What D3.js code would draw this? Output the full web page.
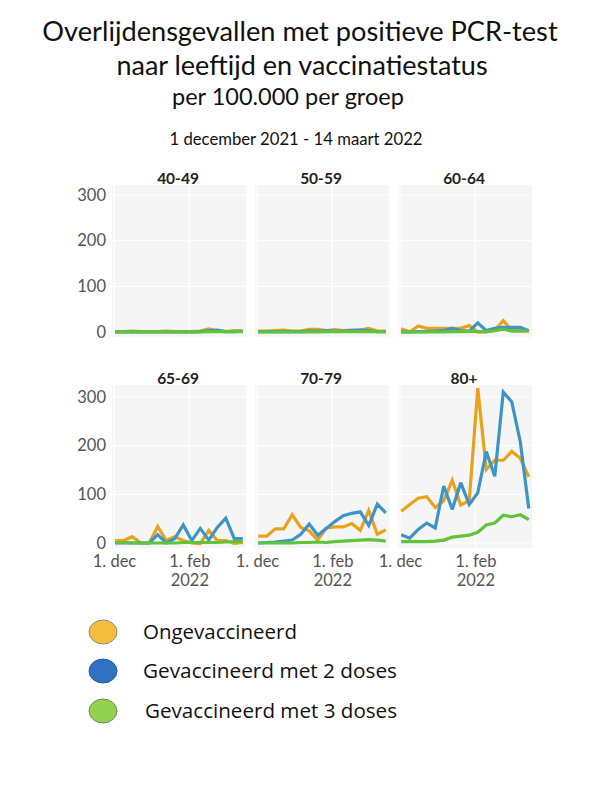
<!DOCTYPE html>
<html>
<head>
<meta charset="utf-8">
<script src="https://cdn.jsdelivr.net/npm/d3@7"></script>
<style>
  html, body { margin: 0; padding: 0; background: #fff; }
  svg { display: block; }
</style>
</head>
<body>
<svg id="chart" width="600" height="800"></svg>
<script>
// ---- data ----
const groups = ["40-49", "50-59", "60-64", "65-69", "70-79", "80+"];
const weekStarts = ["2021-12-02","2021-12-09","2021-12-16","2021-12-23","2021-12-30","2022-01-06","2022-01-13","2022-01-20",
                    "2022-01-27","2022-02-03","2022-02-10","2022-02-17","2022-02-24","2022-03-03","2022-03-10","2022-03-17"];
const seriesNames = ["Ongevaccineerd", "Gevaccineerd met 2 doses", "Gevaccineerd met 3 doses"];

const unvaccinated = [
  [1,1,2,1,1,1,2,1,1,1,2,7,2,1,3,2],
  [2,2,3,4,2,2,6,6,3,5,3,4,4,8,2,2],
  [7,0,13,8,8,8,8,8,14,0,0,4,25,3,4,3],
  [5,5,13,0,0,34,5,13,5,0,-1,26,5,5,-1,1],
  [14,14,29,29,58,32,25,6,31,33,33,40,26,67,18,27],
  [65,79,92,95,73,87,129,78,87,318,151,170,170,188,174,136]
];
const twoDoses = [
  [0,0,0,0,0,0,0,0,0,0,1,3,4,1,1,2],
  [1,1,1,1,1,1,2,2,3,2,2,3,4,3,1,1],
  [0,0,1,1,2,3,8,3,2,20,3,8,10,10,10,3],
  [0,0,0,0,0,17,0,9,37,5,30,6,32,51,9,9],
  [0,1,2,4,6,18,39,16,30,44,56,61,64,36,80,62],
  [17,10,28,41,31,117,69,124,79,103,188,137,310,290,208,71]
];
const threeDoses = [
  [0,0,0,0,0,0,0,0,0,0,0,1,1,1,1,1],
  [0,0,0,0,0,0,0,0,1,1,1,1,1,1,1,1],
  [0,0,0,0,0,0,1,1,2,1,1,3,6,2,2,2],
  [1,1,0,0,0,0,0,0,1,1,1,1,1,2,3,4],
  [0,0,0,0,0,1,1,2,1,3,4,5,6,7,6,4],
  [3,3,3,3,4,6,12,14,16,22,37,41,57,54,58,48]
];
const yTicks = [0, 100, 200, 300];
const xTickDates = ["2021-12-01", "2022-02-01"];
const xTickLabels = [["1. dec"], ["1. feb", "2022"]];

// ---- layout ----
const svg = d3.select("#chart");
const colors = ["#e8a21c", "#3d94c8", "#5fc43a"];
const legendFill = ["#f5bd3b", "#2f72c2", "#92d050"];
const legendStroke = ["#8c8c8c", "#2a5f9c", "#6f8f60"];
const parse = d3.timeParse("%Y-%m-%d");
const dates = weekStarts.map(parse);
const lefts = [114, 257, 400];
const rows = [
  { top: 185, bottom: 337, y0: 332, y300: 195, titleY: 185 },
  { top: 385, bottom: 548, y0: 543, y300: 397, titleY: 385 }
];
const allSeries = [unvaccinated, twoDoses, threeDoses];

svg.append("rect").attr("width", 600).attr("height", 800).attr("fill", "#fff");

// titles
const tfont = "Lato, 'Open Sans', sans-serif";
svg.append("text").attr("x", 300).attr("y", 41).attr("text-anchor", "middle")
  .attr("font-family", tfont).attr("font-size", 27.2).attr("fill", "#111")
  .text("Overlijdensgevallen met positieve PCR-test");
svg.append("text").attr("x", 302).attr("y", 75).attr("text-anchor", "middle")
  .attr("font-family", tfont).attr("font-size", 27).attr("fill", "#111")
  .text("naar leeftijd en vaccinatiestatus");
svg.append("text").attr("x", 172).attr("y", 105)
  .attr("font-family", tfont).attr("font-size", 23.5).attr("fill", "#111")
  .text("per 100.000 per groep");
svg.append("text").attr("x", 296).attr("y", 145).attr("text-anchor", "middle")
  .attr("font-family", tfont).attr("font-size", 16.7).attr("fill", "#111")
  .text("1 december 2021 - 14 maart 2022");

groups.forEach((g, gi) => {
  const row = rows[Math.floor(gi / 3)];
  const col = gi % 3;
  const L = lefts[col];
  const x = d3.scaleTime().domain([parse("2021-12-01"), parse("2022-03-18")]).range([L, L + 130]);
  const y = d3.scaleLinear().domain([0, 300]).range([row.y0, row.y300]);
  const p = svg.append("g");

  p.append("rect").attr("x", L - 2).attr("y", row.top).attr("width", 134)
    .attr("height", row.bottom - row.top).attr("fill", "#f5f5f5");
  // gridlines
  p.selectAll("line.h").data(yTicks).join("line")
    .attr("x1", L - 2).attr("x2", L + 132)
    .attr("y1", d => y(d)).attr("y2", d => y(d))
    .attr("stroke", "#fff").attr("stroke-width", 1.2);
  p.selectAll("line.v").data(xTickDates.map(parse)).join("line")
    .attr("x1", d => x(d)).attr("x2", d => x(d))
    .attr("y1", row.top).attr("y2", row.bottom)
    .attr("stroke", "#fff").attr("stroke-width", 1.2);

  // panel title
  p.append("text").attr("x", L + 64).attr("y", row.titleY - 1).attr("text-anchor", "middle")
    .attr("font-family", tfont).attr("font-weight", "bold").attr("font-size", 15.5).attr("fill", "#222")
    .text(g);

  // lines
  const line = d3.line().x((d, i) => x(dates[i])).y(d => y(d));
  allSeries.forEach((s, si) => {
    p.append("path").attr("d", line(s[gi])).attr("fill", "none")
      .attr("stroke", colors[si]).attr("stroke-width", 3.2)
      .attr("stroke-linejoin", "miter").attr("stroke-miterlimit", 3);
  });

  // y axis
  if (col === 0) {
    const ya = d3.axisLeft(y).tickValues(yTicks).tickSize(0).tickPadding(0);
    const ag = svg.append("g").attr("transform", `translate(${L - 8},0)`).call(ya);
    ag.select(".domain").remove();
    ag.selectAll("text").attr("font-family", tfont).attr("font-size", 16.5).attr("fill", "#555");
  }
  // x axis
  if (gi >= 3) {
    const xa = d3.axisBottom(x).tickValues(xTickDates.map(parse)).tickSize(0).tickPadding(0).tickFormat("");
    const ag = svg.append("g").attr("transform", `translate(0,${row.bottom})`).call(xa);
    ag.select(".domain").remove();
    ag.selectAll(".tick").each(function(d, i) {
      xTickLabels[i].forEach((lbl, li) => {
        d3.select(this).append("text").attr("fill", "#555")
          .attr("font-family", tfont).attr("font-size", 16.5).attr("text-anchor", "middle")
          .attr("x", 0).attr("y", 19 + li * 18.5).text(lbl);
      });
    });
  }
});

// legend
const lg = svg.append("g");
const legendWidths = [154, 254, 252];
seriesNames.forEach((n, i) => {
  const cy = [632, 671, 711][i];
  lg.append("ellipse").attr("cx", 103).attr("cy", cy).attr("rx", 14).attr("ry", 12)
    .attr("fill", legendFill[i]).attr("stroke", legendStroke[i]).attr("stroke-width", 1);
  lg.append("text").attr("x", i === 2 ? 145 : 143).attr("y", cy + 7)
    .attr("font-family", "'Open Sans', sans-serif").attr("font-size", 20).attr("fill", "#111")
    .attr("textLength", legendWidths[i]).attr("lengthAdjust", "spacingAndGlyphs")
    .text(n);
});
</script>
</body>
</html>
